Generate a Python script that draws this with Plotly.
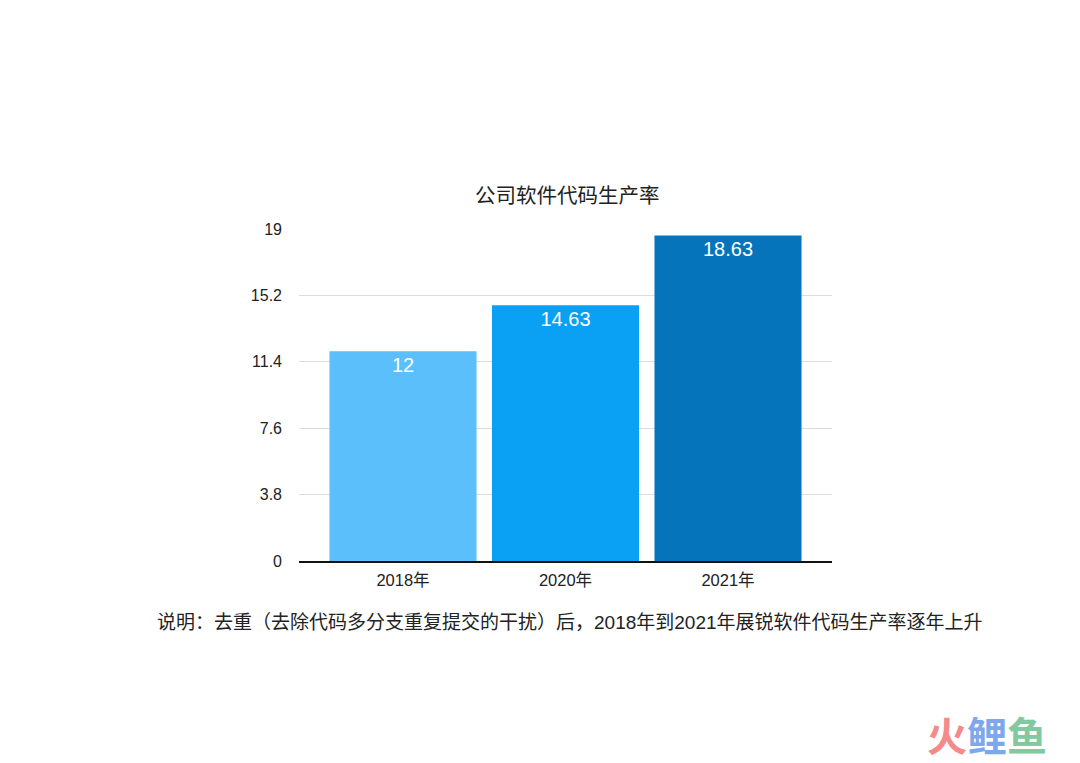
import plotly.graph_objects as go

categories = ["2018年", "2020年", "2021年"]
values = [12, 14.63, 18.63]
value_labels = ["12", "14.63", "18.63"]
bar_colors = ["#5abffb", "#0aa1f5", "#0674ba"]
y_ticks = [0, 3.8, 7.6, 11.4, 15.2, 19]
y_tick_labels = ["0", "3.8", "7.6", "11.4", "15.2", "19"]

FONT = "Liberation Sans, Noto Sans CJK SC, sans-serif"

# page body has an 8px margin; figure coordinates = screen - 8
OFF = 8
W, H = 1080 - OFF, 763 - OFF
L, T = 299 - OFF, 229 - OFF
R = W - (832 - OFF)
B = H - (561 - OFF)
pw, ph = W - L - R, H - T - B

def px(x):
    return (x - OFF - L) / pw

def py(y):
    return (H - B - (y - OFF)) / ph

fig = go.Figure(go.Bar(
    x=categories, y=values, text=value_labels,
    marker=dict(color=bar_colors, line=dict(width=0)),
    textposition="inside", insidetextanchor="end",
    textfont=dict(color="white", size=20, family=FONT),
    cliponaxis=False,
))

fig.update_layout(
    width=W, height=H,
    margin=dict(l=L, r=R, t=T, b=B, pad=0),
    paper_bgcolor="white", plot_bgcolor="white",
    bargap=0.095,
    showlegend=False,
    font=dict(family=FONT, color="#222", size=16),
    xaxis=dict(
        range=[-0.64, 2.64], showgrid=False, showline=True,
        linecolor="#111", linewidth=1.5, ticks="",
        ticklabelstandoff=3,
        tickfont=dict(size=16.5, color="#222"),
    ),
    yaxis=dict(
        range=[0, 19], tickvals=y_ticks, ticktext=y_tick_labels,
        showgrid=True, gridcolor="#dcdcdc", gridwidth=1,
        zeroline=False, showline=False, ticks="",
        ticklabelstandoff=16,
        tickfont=dict(size=16, color="#222"),
    ),
    annotations=[
        dict(text="公司软件代码生产率", x=px(567), y=py(195), xref="paper", yref="paper",
             showarrow=False, font=dict(size=20.5, color="#222", family=FONT),
             xanchor="center", yanchor="middle"),
        dict(text="说明：去重（去除代码多分支重复提交的干扰）后，2018年到2021年展锐软件代码生产率逐年上升",
             x=px(570), y=py(622), xref="paper", yref="paper",
             showarrow=False, font=dict(size=19, color="#222", family=FONT),
             xanchor="center", yanchor="middle"),
        dict(text="<b><span style='color:#f58a8a'>火</span><span style='color:#7fa8ec'>鲤</span><span style='color:#82c9a0'>鱼</span></b>",
             x=px(987), y=py(734), xref="paper", yref="paper",
             showarrow=False, font=dict(size=40, family="Noto Sans CJK SC"),
             xanchor="center", yanchor="middle"),
    ],
)

fig.write_html("out.html")
